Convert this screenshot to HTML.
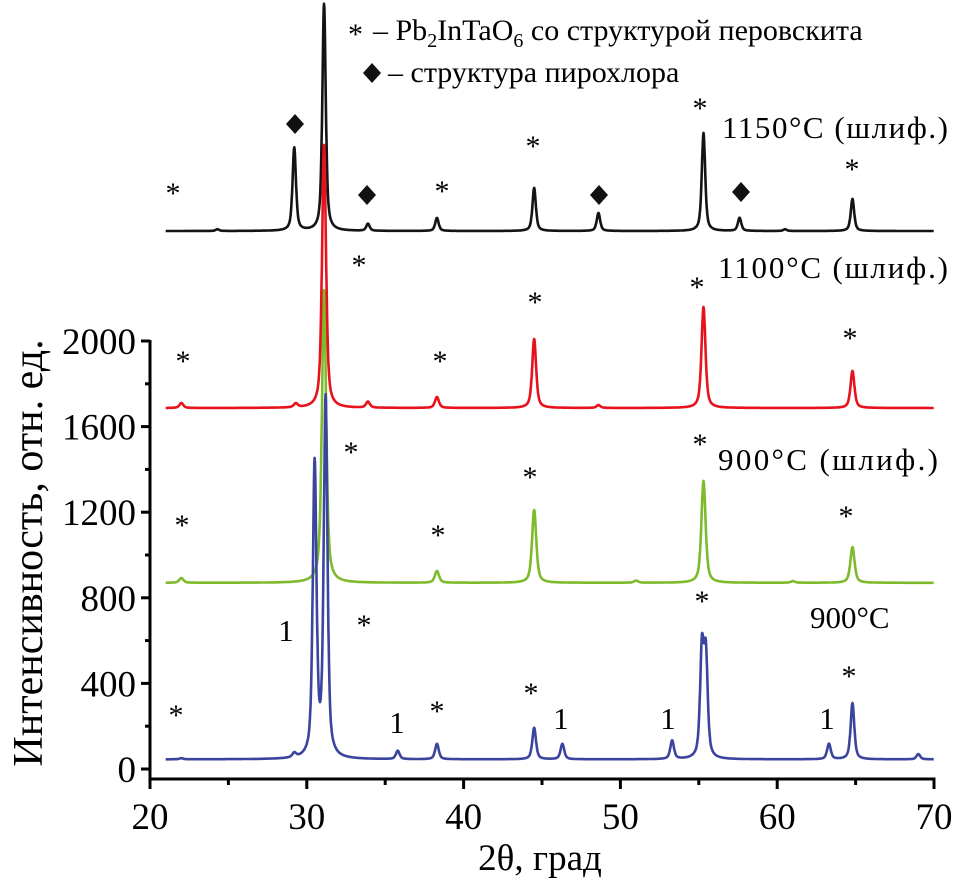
<!DOCTYPE html>
<html><head><meta charset="utf-8">
<style>
html,body{margin:0;padding:0;background:#fff;}
svg{display:block;font-family:"Liberation Serif","DejaVu Serif",serif;}
text{font-family:"Liberation Serif","DejaVu Serif",serif;fill:#000;}
</style></head>
<body>
<svg id="chart" width="960" height="888" viewBox="0 0 960 888" xmlns="http://www.w3.org/2000/svg" font-family="Liberation Serif, serif">
<g id="curves"></g>
<g id="axes"></g>
<g id="annot"></g>
</svg>
<script>
// ---- data ----
const xTicks = [20, 30, 40, 50, 60, 70];
const yTicks = [0, 400, 800, 1200, 1600, 2000];
const seriesNames = ["900C", "900C-polished", "1100C-polished", "1150C-polished"];
const baselines = [45, 870, 1687, 2514];
const bluePos = [22, 29.2, 30.5, 31.2, 35.8, 38.3, 44.5, 46.3, 53.3, 55.2, 55.45, 63.3, 64.8, 69];
const blueTop = [50, 65, 1415, 1720, 84, 117, 192, 117, 131, 540, 510, 117, 308, 70];
const greenPos = [22, 31.1, 38.3, 44.5, 51, 55.3, 61, 64.8];
const greenTop = [892, 2238, 925, 1210, 880, 1346, 878, 1037];
const redPos = [22, 29.3, 31.1, 33.9, 38.3, 44.5, 48.6, 55.3, 64.8];
const redTop = [1710, 1705, 2916, 1715, 1738, 2009, 1700, 2159, 1860];
const blackPos = [24.3, 29.2, 31.1, 33.9, 38.3, 44.5, 48.6, 55.3, 57.6, 60.5, 64.8];
const blackTop = [2522, 2902, 3575, 2547, 2575, 2715, 2598, 2972, 2575, 2522, 2664];

// ---- scales ----
const X0 = 150, X1 = 934, Y0 = 769, KY = 0.214;
const xs = v => X0 + (v - 20) * (X1 - X0) / 50;
const ys = v => Y0 - v * KY;
const NS = "http://www.w3.org/2000/svg";
function mk(tag, attrs, parent) {
  const e = document.createElementNS(NS, tag);
  for (const k in attrs) e.setAttribute(k, attrs[k]);
  parent.appendChild(e);
  return e;
}

// ---- curves ----
const curves = document.getElementById("curves");
function profile(base, pos, top, w) {
  let d = "";
  for (let t = 21; t <= 70; t += 0.02) {
    let v = base;
    for (let i = 0; i < pos.length; i++) {
      const a = top[i] - base;
      const z = (t - pos[i]) / w;
      v += a * (0.6 / (1 + z * z) + 0.4 * Math.exp(-z * z * 0.69));
    }
    d += (d ? "L" : "M") + xs(t).toFixed(1) + "," + ys(v).toFixed(1);
  }
  return d;
}
const specs = [
  {name: "curve-900c-polished", base: baselines[1], pos: greenPos, top: greenTop, c: "#7dbb2c", w: 0.16},
  {name: "curve-900c", base: baselines[0], pos: bluePos, top: blueTop, c: "#3b459e", w: 0.14},
  {name: "curve-1150c-polished", base: baselines[3], pos: blackPos, top: blackTop, c: "#141414", w: 0.13},
  {name: "curve-1100c-polished", base: baselines[2], pos: redPos, top: redTop, c: "#e8121c", w: 0.15}
];
for (const s of specs) {
  const p = mk("path", {d: profile(s.base, s.pos, s.top, s.w), fill: "none", stroke: s.c, "stroke-width": 2.6, "stroke-linejoin": "round"}, curves);
  
  
}

// ---- axes ----
const axes = document.getElementById("axes");
const yAxis = mk("line", {x1: X0, y1: ys(2000) - 1, x2: X0, y2: 779, stroke: "#000", "stroke-width": 3}, axes);


const xAxis = mk("line", {x1: X0 - 1.5, y1: 779, x2: X1 + 1.5, y2: 779, stroke: "#000", "stroke-width": 3}, axes);


for (const v of yTicks) {
  const t = mk("line", {x1: X0 - 9, y1: ys(v), x2: X0, y2: ys(v), stroke: "#000", "stroke-width": 3}, axes);
  
  
  const l = mk("text", {x: X0 - 14, y: ys(v) + 13, "text-anchor": "end", "font-size": 37, "font-family": "Liberation Serif, serif"}, axes);
  l.textContent = v;
  
  
  if (v < 2000) {
    const m = mk("line", {x1: X0 - 5, y1: ys(v + 200), x2: X0, y2: ys(v + 200), stroke: "#000", "stroke-width": 3}, axes);
    
    
  }
}
for (const v of xTicks) {
  const t = mk("line", {x1: xs(v), y1: 779, x2: xs(v), y2: 789, stroke: "#000", "stroke-width": 3}, axes);
  
  
  const l = mk("text", {x: xs(v), y: 829, "text-anchor": "middle", "font-size": 37, "font-family": "Liberation Serif, serif"}, axes);
  l.textContent = v;
  
  
  if (v < 70) {
    const m = mk("line", {x1: xs(v + 5), y1: 779, x2: xs(v + 5), y2: 785, stroke: "#000", "stroke-width": 3}, axes);
    
    
  }
}
</script>
<svg style="position:absolute;left:0;top:0" width="960" height="888" font-family="Liberation Serif, serif">
  <text x="540" y="870" text-anchor="middle" font-size="37">2θ, град</text>
  <text transform="translate(42,553) rotate(-90)" text-anchor="middle" font-size="42">Интенсивность, отн. ед.</text>
  <g font-size="30">
    <text x="348" y="44" font-size="30">*</text>
    <text x="373" y="40">– Pb<tspan font-size="20" dy="7">2</tspan><tspan dy="-7">InTaO</tspan><tspan font-size="20" dy="7">6</tspan><tspan dy="-7"> со структурой перовскита</tspan></text>
    <path d="M372,63 L381,73 L372,83 L363,73 Z" fill="#111"/>
    <text x="388" y="82">– структура пирохлора</text>
  </g>
  <g font-size="31">
    <text x="722" y="138" textLength="226">1150°C (шлиф.)</text>
    <text x="718" y="278" textLength="230">1100°C (шлиф.)</text>
    <text x="718" y="470" textLength="220">900°C (шлиф.)</text>
    <text x="810" y="628">900°C</text>
  </g>
  <g font-size="30" text-anchor="middle">
    <text x="173" y="203">*</text><text x="442" y="201">*</text><text x="533" y="156">*</text><text x="700" y="118">*</text><text x="852" y="179">*</text>
    <text x="359" y="275">*</text><text x="183" y="371">*</text><text x="440" y="371">*</text><text x="535" y="312">*</text><text x="697" y="297">*</text><text x="850" y="348">*</text>
    <text x="351" y="462">*</text><text x="182" y="535">*</text><text x="438" y="545">*</text><text x="530" y="487">*</text><text x="700" y="454">*</text><text x="846" y="526">*</text>
    <text x="364" y="635">*</text><text x="176" y="725">*</text><text x="437" y="721">*</text><text x="531" y="703">*</text><text x="702" y="611">*</text><text x="849" y="686">*</text>
  </g>
  <g fill="#111">
    <path d="M295,114 L304,124 L295,134 L286,124 Z"/>
    <path d="M367,185 L376,195 L367,205 L358,195 Z"/>
    <path d="M599,185 L608,195 L599,205 L590,195 Z"/>
    <path d="M741,182 L750,192 L741,202 L732,192 Z"/>
  </g>
  <g font-size="31" text-anchor="middle">
    <text x="286" y="641">1</text><text x="397" y="733">1</text><text x="561" y="729">1</text><text x="668" y="729">1</text><text x="827" y="729">1</text>
  </g>
</svg>
</body></html>
